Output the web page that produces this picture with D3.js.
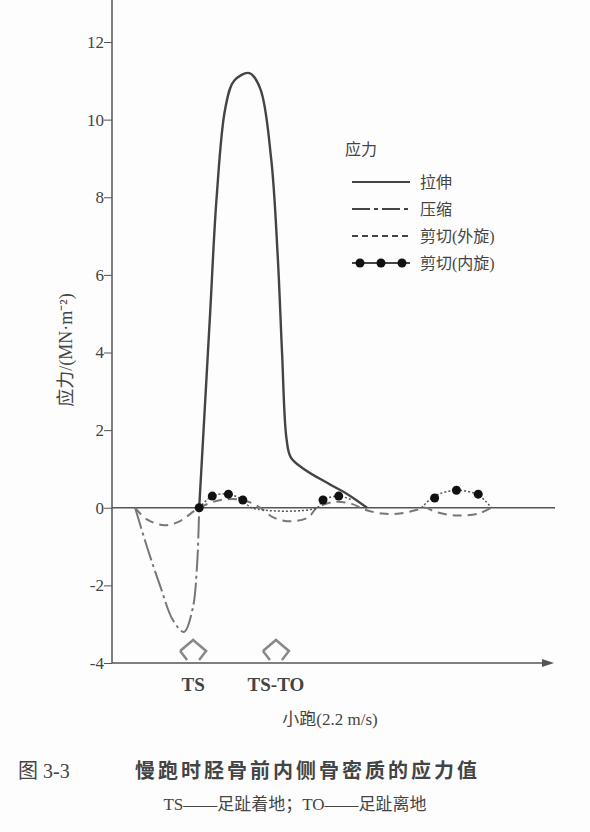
<!DOCTYPE html>
<html><head><meta charset="utf-8">
<script src="https://cdn.jsdelivr.net/npm/d3@7"></script>
<style>body{margin:0;background:#fdfdfd}text{font-family:"Liberation Serif","Noto Sans CJK SC",serif;fill:#444}</style>
</head><body><svg id="c" width="590" height="832"></svg>
<script>
// ----- data (time in % of the plotted span, stress in MN·m^-2)
const tension = [[20,0],[21,2],[22.5,5],[24,8],[26,10.3],[28,11],[31.5,11.2],[34,10.8],[36.5,9],[38,6.5],[39,4],[40,1.8],[41,1.3],[44,1],[50,0.6],[54,0.35],[58.5,0]];
const compression = [[5.3,0],[8,-1],[11,-2],[14,-2.9],[16.5,-3.2],[18.5,-2.6],[19.5,-1.5],[20,0]];
const shearOut = [[5.3,0],[8,-0.3],[12,-0.45],[15.5,-0.35],[20,0],[25,0.2],[30,0.2],[34,0],[37,-0.25],[41,-0.35],[45,-0.25],[47,0],[51,0.15],[55,0.1],[58,-0.05],[62,-0.15],[66,-0.15],[70,-0.05],[72,0],[74,-0.1],[79,-0.2],[84,-0.15],[87,0]];
const shearIn = [[20,0],[23,0.3],[26.7,0.35],[30,0.2],[32,0],[47,0],[48.4,0.2],[52,0.3],[55,0.2]];
const shearIn2 = [[71,0],[74,0.3],[79,0.45],[84,0.33],[87,0]];
const shearInDots = [[20,0],[23,0.3],[26.7,0.35],[30,0.2],[48.4,0.2],[52,0.3],[74,0.25],[79,0.45],[84,0.35]];
const markers = [{t:18.6,label:"TS"},{t:37.6,label:"TS-TO"}];
const yTicks = [-4,-2,0,2,4,6,8,10,12];
const legendItems = ["拉伸","压缩","剪切(外旋)","剪切(内旋)"];

const svg = d3.select("#c");
const x = d3.scaleLinear().domain([0,100]).range([112,548]);
const y = d3.scaleLinear().domain([-4,12]).range([663,42]);
const ink = "#555";

// axes
svg.append("line").attr("x1",112).attr("x2",112).attr("y1",0).attr("y2",y(-4)).attr("stroke",ink).attr("stroke-width",1.5);
svg.append("line").attr("x1",112).attr("x2",x(100)).attr("y1",y(-4)).attr("y2",y(-4)).attr("stroke",ink).attr("stroke-width",1.5);
svg.append("path").attr("d",`M${x(100)+6},${y(-4)} l-12,-4 l0,8z`).attr("fill",ink);
svg.append("line").attr("x1",112).attr("x2",555).attr("y1",y(0)).attr("y2",y(0)).attr("stroke",ink).attr("stroke-width",1.3);
const ya = svg.append("g").attr("transform","translate(112,0)")
  .call(d3.axisLeft(y).tickValues(yTicks).tickSize(-8).tickPadding(8).tickFormat(d=>d));
ya.select(".domain").remove();
ya.selectAll(".tick line").attr("stroke",ink).attr("transform","translate(-8,0)");
ya.selectAll(".tick text").attr("font-size",17).attr("font-family","Liberation Sans").attr("fill","#555");

svg.append("text").attr("transform","translate(72,350) rotate(-90)").attr("text-anchor","middle")
  .attr("font-size",18).text("应力/(MN·m⁻²)");

const line = d3.line().x(d=>x(d[0])).y(d=>y(d[1])).curve(d3.curveCatmullRom);
const draw = (data,dash,w,col)=>svg.append("path").attr("d",line(data)).attr("fill","none")
  .attr("stroke",col||"#555").attr("stroke-width",w).attr("stroke-dasharray",dash);
draw(compression,"22 4 3 4",2,"#777");
draw(shearOut,"9 6",2,"#777");
draw(tension,null,2.4,"#444");
draw(shearIn,"2 2",1.5);
draw(shearIn2,"2 2",1.5);
svg.selectAll("circle.d").data(shearInDots).join("circle").attr("class","d")
  .attr("cx",d=>x(d[0])).attr("cy",d=>y(d[1])).attr("r",4.5).attr("fill","#111");

// foot markers (open diamonds)
markers.forEach(m=>{
  const cx=x(m.t), by=y(-4)-12;
  svg.append("path").attr("d",`M${cx-13},${by} L${cx},${by-11} L${cx+13},${by} L${cx+6},${by+9} M${cx-13},${by} L${cx-6},${by+9}`)
    .attr("fill","none").attr("stroke","#888").attr("stroke-width",2.5);
  svg.append("text").attr("x",cx).attr("y",y(-4)+28).attr("text-anchor","middle")
    .attr("font-size",19).attr("font-family","Liberation Sans").attr("font-weight","bold").attr("fill","#555").text(m.label);
});

// legend
svg.append("text").attr("x",345).attr("y",155).attr("font-size",16).text("应力");
const dashes=[null,"18 4 4 4","6 4",null];
legendItems.forEach((t,i)=>{
  const ly=182+i*27;
  svg.append("line").attr("x1",352).attr("x2",410).attr("y1",ly).attr("y2",ly)
    .attr("stroke","#444").attr("stroke-width",2).attr("stroke-dasharray",dashes[i]);
  if(i===3) [360,381,402].forEach(cx=>svg.append("circle").attr("cx",cx).attr("cy",ly).attr("r",4.5).attr("fill","#111"));
  svg.append("text").attr("x",420).attr("y",ly+6).attr("font-size",16).text(t);
});

// captions
svg.append("text").attr("x",330).attr("y",725).attr("text-anchor","middle").attr("font-size",17).text("小跑(2.2 m/s)");
svg.append("text").attr("x",18).attr("y",778).attr("font-size",20).attr("fill","#666").text("图 3-3");
svg.append("text").attr("x",135).attr("y",778).attr("font-size",20).attr("font-weight","bold").attr("fill","#666").attr("letter-spacing",3).text("慢跑时胫骨前内侧骨密质的应力值");
svg.append("text").attr("x",295).attr("y",810).attr("text-anchor","middle").attr("font-size",17).attr("fill","#666").text("TS——足趾着地；TO——足趾离地");
</script></body></html>
